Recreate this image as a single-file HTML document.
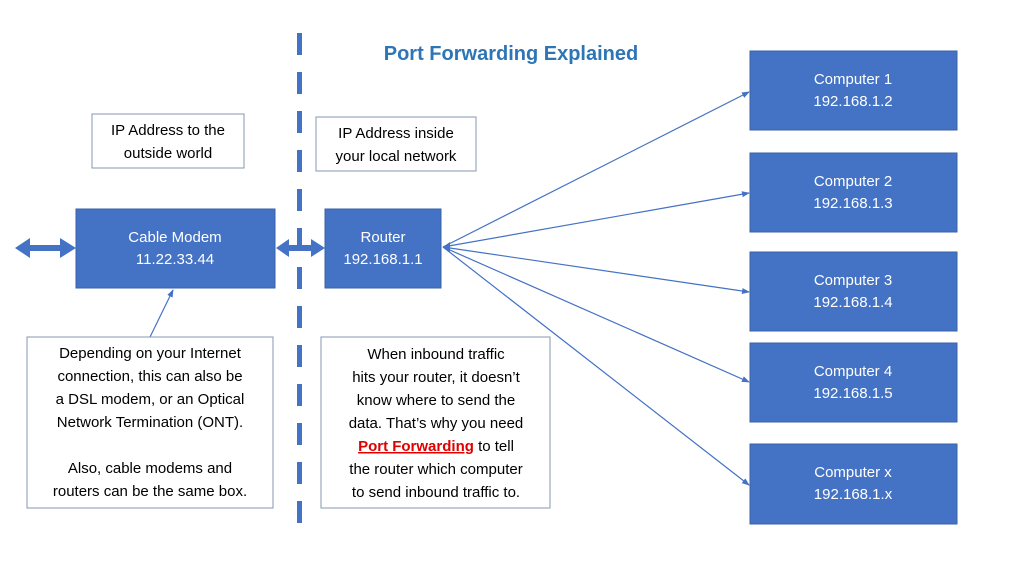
<!DOCTYPE html>
<html><head><meta charset="utf-8"><style>
body{margin:0;width:1024px;height:576px;background:#fff;overflow:hidden;font-family:"Liberation Sans",sans-serif}
</style></head><body>
<svg width="1024" height="576" xmlns="http://www.w3.org/2000/svg" font-family="Liberation Sans, sans-serif">
<defs>
<marker id="a" markerWidth="8" markerHeight="8" refX="7" refY="4" orient="auto" markerUnits="userSpaceOnUse"><path d="M0,1 L8,4 L0,7 Z" fill="#4472C4"/></marker>
</defs>
<line x1="299.5" y1="33" x2="299.5" y2="526" stroke="#4472C4" stroke-width="5" stroke-dasharray="22 17"/>
<text x="511" y="60" text-anchor="middle" font-size="20" font-weight="bold" fill="#2E75B6">Port Forwarding Explained</text>
<g fill="#4472C4" stroke="#3A62A8" stroke-width="1">
<rect x="76" y="209" width="199" height="79"/>
<rect x="325" y="209" width="116" height="79"/>
<rect x="750" y="51" width="207" height="79"/>
<rect x="750" y="153" width="207" height="79"/>
<rect x="750" y="252" width="207" height="79"/>
<rect x="750" y="343" width="207" height="79"/>
<rect x="750" y="444" width="207" height="80"/>
</g>
<g fill="#fff" font-size="15" text-anchor="middle">
<text x="175" y="242">Cable Modem</text><text x="175" y="264">11.22.33.44</text>
<text x="383" y="242">Router</text><text x="383" y="264">192.168.1.1</text>
<text x="853" y="84">Computer 1</text><text x="853" y="106">192.168.1.2</text>
<text x="853" y="186">Computer 2</text><text x="853" y="208">192.168.1.3</text>
<text x="853" y="285">Computer 3</text><text x="853" y="307">192.168.1.4</text>
<text x="853" y="376">Computer 4</text><text x="853" y="398">192.168.1.5</text>
<text x="853" y="477">Computer x</text><text x="853" y="499">192.168.1.x</text>
</g>
<!-- double arrows -->
<g fill="#4472C4">
<path d="M15,248 L30,238 L30,245 L60,245 L60,238 L76,248 L60,258 L60,251 L30,251 L30,258 Z"/>
<path d="M276,248 L289,239 L289,245 L311,245 L311,239 L325,248 L311,257 L311,251 L289,251 L289,257 Z"/>
</g>
<g stroke="#4472C4" stroke-width="1.2" fill="none" marker-end="url(#a)">
<line x1="443" y1="247" x2="749" y2="92"/>
<line x1="443" y1="247" x2="749" y2="193"/>
<line x1="443" y1="247" x2="749" y2="292"/>
<line x1="443" y1="247" x2="749" y2="382"/>
<line x1="443" y1="247" x2="749" y2="485"/>
<line x1="150" y1="337" x2="173" y2="290"/>
</g>
<path d="M443,247 L450,242 L450,252 Z" fill="#4472C4"/>
<g fill="#fff" stroke="#8497B0" stroke-width="1">
<rect x="92" y="114" width="152" height="54"/>
<rect x="316" y="117" width="160" height="54"/>
<rect x="27" y="337" width="246" height="171"/>
<rect x="321" y="337" width="229" height="171"/>
</g>
<g font-size="15" fill="#000" text-anchor="middle">
<text x="168" y="135">IP Address to the</text><text x="168" y="158">outside world</text>
<text x="396" y="138">IP Address inside</text><text x="396" y="161">your local network</text>
<text x="150" y="358">Depending on your Internet</text>
<text x="150" y="381">connection, this can also be</text>
<text x="150" y="404">a DSL modem, or an Optical</text>
<text x="150" y="427">Network Termination (ONT).</text>
<text x="150" y="473">Also, cable modems and</text>
<text x="150" y="496">routers can be the same box.</text>
<text x="436" y="359">When inbound traffic</text>
<text x="436" y="382">hits your router, it doesn’t</text>
<text x="436" y="405">know where to send the</text>
<text x="436" y="428">data. That’s why you need</text>
<text x="436" y="451"><tspan fill="#E00000" font-weight="bold" text-decoration="underline">Port Forwarding</tspan> to tell</text>
<text x="436" y="474">the router which computer</text>
<text x="436" y="497">to send inbound traffic to.</text>
</g>
</svg>
</body></html>
